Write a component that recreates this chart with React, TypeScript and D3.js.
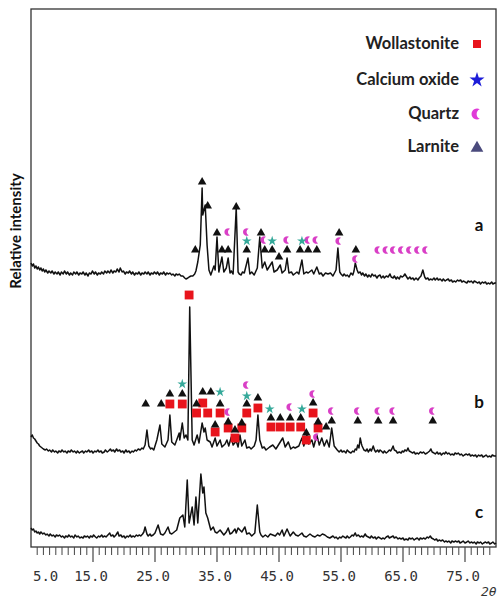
import React from "react";
import * as d3 from "d3";

const W = 499;
const H = 599;
const margin = { top: 9, right: 3, bottom: 52, left: 31 };

// 2-theta range and tick labels
const thetaDomain = [5, 80];
const labelTicks = [5, 15, 25, 35, 45, 55, 65, 75];

// vertical offsets of the three patterns (relative intensity units)
const offsets = { a: 270, b: 95, c: 10 };
const traceLetters = ["a", "b", "c"];
const letterLevels = [52, 50, 25];

// pattern a: [2theta, intensity above its own baseline]
const traceA = [
  [5.0, 14], [5.2, 11], [5.4, 13], [5.6, 9], [5.8, 11], [6.0, 8], [6.2, 10], [6.4, 7], [6.6, 9],
  [6.8, 6], [7.0, 8], [7.2, 5], [7.4, 7], [7.7, 4], [7.9, 6], [8.2, 4], [8.4, 6], [8.7, 3],
  [8.9, 5], [9.2, 3], [9.4, 5], [9.7, 2], [9.9, 5], [10.2, 3], [10.4, 6], [10.7, 3], [10.9, 5],
  [11.2, 2], [11.4, 4], [11.7, 2], [11.9, 5], [12.2, 3], [12.4, 5], [12.7, 2], [12.9, 4], [13.2, 3],
  [13.4, 5], [13.7, 2], [13.9, 4], [14.2, 1], [14.4, 4], [14.7, 3], [14.9, 6], [15.2, 3], [15.4, 5],
  [15.7, 2], [15.9, 4], [16.2, 3], [16.4, 5], [16.7, 3], [16.9, 6], [17.2, 4], [17.4, 6], [17.7, 4],
  [17.9, 7], [18.2, 4], [18.4, 6], [18.7, 5], [18.9, 8], [19.2, 5], [19.4, 9], [19.7, 5], [19.9, 6],
  [20.2, 3], [20.4, 5], [20.7, 4], [20.9, 6], [21.2, 3], [21.4, 5], [21.7, 2], [21.9, 4], [22.2, 3],
  [22.4, 5], [22.7, 2], [22.9, 4], [23.2, 3], [23.4, 5], [23.7, 3], [23.9, 5], [24.2, 2], [24.4, 4],
  [24.7, 3], [24.9, 5], [25.2, 3], [25.4, 5], [25.7, 2], [25.9, 4], [26.2, 3], [26.4, 5], [26.7, 2],
  [26.9, 4], [27.2, 3], [27.4, 4], [27.7, 2], [27.9, 3], [28.2, 1], [28.4, 3], [28.7, 2], [28.9, 3],
  [29.2, 1], [29.5, 1], [29.8, -1], [30.0, -2], [30.3, -1], [30.5, 0], [30.8, 1], [31.1, 1],
  [31.4, 3], [31.6, 6], [31.9, 15], [32.3, 32], [32.6, 89], [32.7, 62], [33.1, 72], [33.4, 32],
  [33.7, 7], [34.0, 2], [34.5, 11], [34.7, 7], [35.0, 40], [35.3, 5], [35.8, 20], [36.1, 5],
  [36.5, 9], [36.8, 19], [37.1, 4], [37.3, 6], [37.6, 3], [38.1, 69], [38.4, 5], [38.6, 3], [38.9, 2],
  [39.1, 5], [39.4, 4], [40.0, 19], [40.3, 3], [40.6, 5], [41.0, 2], [41.5, 9], [41.9, 40], [42.3, 9],
  [42.7, 15], [43.1, 7], [43.5, 11], [43.9, 15], [44.2, 5], [44.7, 7], [45.2, 12], [45.5, 4],
  [46.0, 7], [46.3, 19], [46.6, 4], [47.0, 5], [47.3, 2], [47.9, 5], [48.2, 3], [48.7, 17], [49.0, 3],
  [49.4, 5], [49.7, 4], [50.3, 7], [50.6, 3], [51.1, 10], [51.5, 3], [51.8, 4], [52.1, 1], [52.5, 4],
  [52.9, 3], [53.3, 4], [53.7, 1], [54.2, 7], [54.5, 29], [54.8, 5], [55.0, 3], [55.3, 1], [55.5, 3],
  [55.8, 1], [56.0, 2], [56.3, 0], [56.6, 4], [56.9, 2], [57.1, 6], [57.3, 14], [57.6, 7], [57.8, 4],
  [58.1, 5], [58.3, 2], [58.5, 4], [58.8, 1], [59.0, 3], [59.3, 0], [59.5, 2], [59.8, 0], [60.0, 3],
  [60.3, 1], [60.5, 2], [60.8, -1], [61.0, 1], [61.3, 2], [61.5, -1], [61.8, 1], [62.0, -1],
  [62.3, 1], [62.6, 0], [62.9, 3], [63.1, 0], [63.4, -1], [63.6, 1], [63.9, -2], [64.1, 0],
  [64.4, -2], [64.6, 1], [64.9, 0], [65.1, 1], [65.3, 3], [65.6, 0], [65.8, -2], [66.1, 0],
  [66.3, -2], [66.6, -1], [66.8, -3], [67.1, -1], [67.4, -3], [67.6, -1], [67.9, 1], [68.2, 7],
  [68.5, 0], [68.7, -2], [69.0, -1], [69.2, -3], [69.5, -2], [69.7, -3], [70.0, -1], [70.2, -3],
  [70.5, -1], [70.7, -3], [71.0, -2], [71.3, -4], [71.5, -2], [71.8, -4], [72.0, -3], [72.3, -2],
  [72.5, -4], [72.8, -3], [73.0, -5], [73.3, -4], [73.5, -5], [73.8, -3], [74.0, -4], [74.3, -3],
  [74.5, -5], [74.8, -4], [75.0, -5], [75.3, -6], [75.5, -4], [75.8, -5], [76.0, -4], [76.3, -6],
  [76.5, -4], [76.8, -5], [77.0, -6], [77.3, -5], [77.5, -7], [77.8, -5], [78.0, -6], [78.3, -5],
  [78.5, -7], [78.8, -6], [79.0, -7], [79.3, -5], [79.5, -7], [79.8, -6], [80.0, -6],
];

const traceB = [
  [5.0, 15], [5.2, 17], [5.4, 14], [5.6, 13], [5.8, 11], [6.0, 9], [6.2, 8], [6.4, 6], [6.6, 5],
  [6.8, 4], [7.0, 3], [7.3, 2], [7.5, 3], [7.8, 1], [8.0, 2], [8.3, 0], [8.5, 2], [8.8, 0], [9.0, 1],
  [9.3, -1], [9.5, 1], [9.8, 0], [10.0, 2], [10.3, 0], [10.5, 1], [10.8, -1], [11.0, 1], [11.3, 0],
  [11.5, 2], [11.8, 0], [12.0, 1], [12.3, -1], [12.5, 1], [12.8, -1], [13.0, 0], [13.3, 1],
  [13.5, -1], [13.8, 1], [14.0, 0], [14.3, 2], [14.5, 0], [14.8, 1], [15.0, -1], [15.3, 1],
  [15.5, 0], [15.8, 2], [16.0, 0], [16.3, 1], [16.5, -1], [16.8, 0], [17.0, 2], [17.3, 0],
  [17.5, 1], [17.8, 3], [18.0, 1], [18.3, 2], [18.5, 0], [18.8, 3], [19.0, 1], [19.3, 2], [19.5, 0],
  [19.8, 1], [20.0, -1], [20.3, 2], [20.5, 0], [20.8, 1], [21.0, -1], [21.3, 1], [21.5, 0],
  [21.8, 2], [22.0, 1], [22.3, 3], [22.6, 2], [22.9, 4], [23.1, 3], [23.4, 7], [23.7, 22],
  [24.0, 6], [24.3, 3], [24.5, 4], [24.8, 2], [25.0, 6], [25.3, 12], [25.8, 27], [26.1, 8],
  [26.6, 5], [27.1, 12], [27.4, 37], [27.7, 10], [28.2, 7], [28.5, 12], [28.9, 19], [29.0, 12],
  [29.4, 29], [29.7, 14], [30.0, 17], [30.3, 12], [30.6, 145], [31.0, 12], [31.3, 7], [31.8, 17],
  [32.1, 9], [32.6, 29], [32.9, 20], [33.1, 24], [33.4, 12], [33.9, 10], [34.2, 5], [34.7, 14],
  [35.0, 6], [35.5, 12], [35.8, 5], [36.3, 8], [36.6, 12], [36.9, 6], [37.3, 15], [37.6, 7],
  [38.1, 11], [38.4, 5], [38.7, 17], [39.0, 6], [39.5, 12], [39.8, 4], [40.2, 5], [40.5, 3],
  [41.0, 6], [41.3, 12], [41.6, 37], [41.9, 12], [42.3, 4], [42.6, 5], [42.9, 2], [43.5, 5],
  [44.0, 7], [44.5, 3], [45.2, 10], [45.6, 14], [46.0, 5], [46.5, 10], [46.9, 3], [47.3, 5],
  [47.6, 4], [48.2, 6], [48.7, 14], [49.0, 6], [49.5, 17], [49.8, 8], [50.3, 12], [50.6, 5],
  [51.1, 17], [51.5, 7], [51.9, 14], [52.3, 6], [52.7, 12], [53.1, 5], [53.5, 24], [53.9, 6],
  [54.4, 2], [54.7, 0], [55.0, 2], [55.2, 0], [55.5, 1], [55.8, -1], [56.0, 2], [56.3, 0],
  [56.6, -1], [56.9, 1], [57.1, 0], [57.3, 3], [57.5, 2], [57.7, 7], [57.9, 4], [58.1, 14],
  [58.3, 8], [58.4, 6], [58.7, 2], [59.0, 1], [59.2, 3], [59.4, 0], [59.7, 3], [59.9, 1], [60.2, 6],
  [60.4, 2], [60.6, 0], [60.9, 2], [61.1, 0], [61.3, 2], [61.5, 1], [61.8, -1], [62.0, 1],
  [62.3, -1], [62.5, 0], [62.8, 2], [63.0, 1], [63.2, 3], [63.4, 6], [63.6, 2], [63.9, 1],
  [64.1, -1], [64.4, 0], [64.7, -1], [64.9, 1], [65.1, 0], [65.3, 2], [65.6, 1], [65.8, 4],
  [66.0, 1], [66.3, 0], [66.5, -1], [66.8, 0], [67.0, -2], [67.3, -1], [67.5, -2], [67.8, 0],
  [68.1, -1], [68.3, 0], [68.6, -2], [68.9, -1], [69.1, 0], [69.3, 1], [69.5, 3], [69.7, 0],
  [70.0, -1], [70.2, -2], [70.5, 0], [70.7, -2], [71.0, -1], [71.2, -3], [71.5, -1], [71.7, -2],
  [71.9, 0], [72.2, -2], [72.4, -1], [72.7, -3], [72.9, -2], [73.2, -3], [73.4, -1], [73.7, -2],
  [73.9, -1], [74.2, -3], [74.4, -2], [74.7, -4], [74.9, -3], [75.2, -2], [75.4, -3], [75.7, -2],
  [75.9, -4], [76.2, -3], [76.4, -4], [76.7, -3], [76.9, -5], [77.2, -3], [77.4, -4], [77.7, -3],
  [77.9, -5], [78.2, -4], [78.4, -3], [78.7, -5], [78.9, -4], [79.2, -5], [79.4, -3], [79.7, -4],
  [80.0, -4],
];

const traceC = [
  [5.0, 9], [5.2, 7], [5.4, 8], [5.6, 5], [5.8, 6], [6.0, 4], [6.2, 5], [6.4, 3], [6.6, 5],
  [6.9, 3], [7.1, 4], [7.4, 2], [7.6, 3], [7.9, 1], [8.1, 3], [8.4, 1], [8.6, 2], [8.9, 0], [9.1, 2],
  [9.4, 1], [9.6, 2], [9.9, 0], [10.1, 1], [10.4, -1], [10.6, 1], [10.9, 0], [11.1, 2], [11.4, 0],
  [11.6, 1], [11.9, -1], [12.1, 2], [12.4, 0], [12.6, 1], [12.9, -1], [13.1, 0], [13.4, -1],
  [13.6, 1], [13.9, 0], [14.1, 1], [14.4, -1], [14.6, 1], [14.9, 0], [15.1, 2], [15.4, 0],
  [15.6, -1], [15.9, 1], [16.1, 0], [16.4, 2], [16.6, 0], [16.9, 1], [17.1, 0], [17.4, 2],
  [17.7, 4], [17.9, 1], [18.2, 2], [18.4, 0], [18.7, 2], [19.0, 5], [19.2, 1], [19.5, 2], [19.7, 0],
  [20.0, 1], [20.2, -1], [20.5, 1], [20.7, 0], [21.0, 2], [21.2, 0], [21.5, 1], [21.7, 0], [22.0, 2],
  [22.2, 1], [22.5, 2], [22.7, 1], [23.0, 3], [23.2, 5], [23.4, 10], [23.7, 3], [23.9, 1],
  [24.2, 3], [24.4, 1], [24.7, 2], [25.0, 4], [25.5, 12], [25.9, 3], [26.3, 2], [26.6, 4],
  [27.1, 10], [27.4, 4], [27.7, 3], [28.1, 5], [28.5, 7], [29.0, 19], [29.5, 22], [29.8, 10],
  [30.2, 57], [30.5, 14], [31.0, 30], [31.3, 12], [31.6, 40], [31.9, 14], [32.4, 63], [32.7, 44],
  [32.9, 50], [33.2, 24], [33.5, 19], [34.0, 7], [34.4, 10], [34.7, 5], [35.0, 4], [35.5, 7],
  [36.1, 2], [36.5, 5], [36.8, 9], [37.1, 3], [37.4, 4], [37.9, 8], [38.1, 4], [38.4, 9], [39.0, 5],
  [39.5, 10], [39.8, 3], [40.2, 4], [40.6, 1], [41.1, 4], [41.5, 32], [41.9, 5], [42.1, 2],
  [42.4, 0], [42.8, 2], [43.2, 0], [43.6, 3], [44.0, 2], [44.4, 1], [44.8, 4], [45.1, 2], [45.5, 7],
  [45.8, 1], [46.3, 8], [46.8, 1], [47.3, 5], [47.7, 2], [48.1, 1], [48.7, 4], [49.0, 1], [49.4, 0],
  [50.0, 3], [50.4, 1], [50.8, 0], [51.2, 2], [51.6, 1], [52.0, 3], [52.4, 2], [52.8, 0], [53.2, -1],
  [53.7, 1], [54.0, -1], [54.2, 0], [54.5, -2], [54.8, 0], [55.0, -1], [55.3, 1], [55.5, 0],
  [55.8, -1], [56.0, 1], [56.3, -1], [56.5, 0], [56.8, 2], [57.0, 1], [57.3, 4], [57.5, 1],
  [57.8, 2], [58.1, 0], [58.3, 1], [58.6, 0], [58.9, 3], [59.1, 1], [59.4, 0], [59.7, -1], [59.9, 1],
  [60.2, -1], [60.5, 0], [60.7, -2], [61.0, 0], [61.3, -1], [61.5, -2], [61.8, -1], [62.0, -2],
  [62.3, 0], [62.6, 1], [62.8, -1], [63.1, 0], [63.4, 1], [63.6, -1], [63.9, 0], [64.2, -2],
  [64.4, -1], [64.7, -2], [65.0, -1], [65.2, -3], [65.5, -2], [65.8, -3], [66.0, -1], [66.3, -2],
  [66.5, -1], [66.8, -3], [67.0, -2], [67.3, -1], [67.6, -3], [67.8, -1], [68.1, -2], [68.3, -1],
  [68.6, -2], [68.9, 0], [69.1, -1], [69.4, 1], [69.6, -1], [69.9, -2], [70.1, -3], [70.4, -2],
  [70.6, -4], [70.9, -3], [71.1, -4], [71.4, -3], [71.7, -5], [71.9, -4], [72.2, -5], [72.4, -4],
  [72.7, -6], [72.9, -4], [73.2, -5], [73.5, -4], [73.7, -5], [74.0, -4], [74.2, -6], [74.5, -5],
  [74.7, -4], [75.0, -6], [75.3, -5], [75.5, -4], [75.8, -6], [76.0, -5], [76.3, -6], [76.5, -5],
  [76.8, -7], [77.0, -5], [77.3, -6], [77.5, -5], [77.8, -7], [78.0, -6], [78.3, -5], [78.5, -6],
  [78.8, -5], [79.0, -7], [79.3, -6], [79.5, -5], [79.8, -7], [80.0, -6],
];

// phase markers: [2theta, level above the pattern baseline]
const larniteA = [
  [32.6, 95], [33.5, 71], [31.5, 27], [35.0, 44], [35.8, 27], [36.8, 27], [38.1, 70], [39.8, 27],
  [42.1, 44], [42.7, 27], [43.9, 27], [45.0, 20], [46.3, 27], [48.4, 27], [49.7, 27], [51.1, 27],
  [54.7, 44], [57.4, 27],
];
const quartzA = [
  [36.8, 45], [39.8, 45], [42.6, 37], [46.3, 37], [49.7, 37], [51.0, 37], [54.7, 36], [57.4, 18],
  [61.0, 27], [62.3, 27], [63.5, 27], [64.8, 27], [66.1, 27], [67.4, 27], [68.7, 27],
];
const calciumA = [[39.8, 36], [43.9, 36], [48.7, 36]];

const wollastoniteB = [
  [30.5, 157], [27.4, 48], [29.4, 48], [31.7, 39], [32.7, 49], [33.5, 39], [35.5, 39], [34.7, 20],
  [36.8, 24], [37.9, 14], [39.0, 24], [39.8, 39], [41.6, 44], [43.7, 25], [45.2, 25], [46.8, 25],
  [48.5, 25], [49.4, 12], [50.5, 39], [51.3, 24],
];
const larniteB = [
  [23.5, 48], [26.0, 48], [27.4, 58], [29.4, 58], [31.7, 48], [32.7, 60], [34.0, 60], [35.5, 48],
  [34.7, 27], [36.8, 30], [37.9, 22], [39.0, 29], [39.8, 48], [41.6, 54], [43.7, 34], [45.2, 34],
  [46.8, 34], [48.5, 34], [49.4, 19], [50.5, 49], [51.3, 30], [52.6, 25], [53.5, 31], [57.7, 31],
  [61.0, 31], [63.4, 31], [69.8, 31],
];
const calciumB = [[29.4, 68], [35.5, 60], [39.8, 56], [43.5, 43], [48.7, 43]];
const quartzB = [
  [36.8, 40], [39.8, 67], [46.8, 45], [50.5, 58], [51.1, 15], [53.5, 41], [57.7, 41], [61.0, 41],
  [63.4, 41], [69.8, 41],
];

const legendNames = ["Wollastonite", "Calcium oxide", "Quartz", "Larnite"];

const crescent = (r: number) =>
  `M${0.5 * r},${-0.87 * r}A${r},${r} 0 1 0 ${0.5 * r},${0.87 * r}A${0.95 * r},${0.95 * r} 0 0 1 ${0.5 * r},${-0.87 * r}Z`;

const App = () => {
  const x = d3.scaleLinear().domain(thetaDomain).range([margin.left, W - margin.right]);
  const y = d3.scaleLinear().domain([0, 538]).range([H - margin.bottom, margin.top]);
  const y0 = H - margin.bottom;

  const line = (off: number) =>
    d3
      .line<number[]>()
      .x((d) => x(d[0]))
      .y((d) => y(off + d[1]));

  const tri = d3.symbol(d3.symbolTriangle, 32)();
  const star = d3.symbol(d3.symbolStar, 30)();
  const sq = d3.symbol(d3.symbolSquare, 78)();

  const place = (d: number[], off: number) => `translate(${x(d[0])},${y(off + d[1])})`;

  const minor = d3.range(6, 80, 1).filter((t) => (t - 5) % 10 !== 0);
  const major = d3.range(15, 80, 10);

  const legendColors = ["#e8141c", "#1c1cd8", "#e03ad8", "#4b4b7d"];
  const legendY = [44, 80, 114, 147];

  return (
    <svg width={W} height={H} style={{ position: "absolute", left: 0, top: 0, background: "#fff" }}>
      {/* frame */}
      <rect
        x={margin.left}
        y={margin.top}
        width={W - margin.right - margin.left}
        height={y0 - margin.top}
        fill="none"
        stroke="#333"
        strokeWidth={1.3}
      />

      {/* ticks */}
      {minor.map((t) => (
        <line key={"m" + t} x1={x(t)} x2={x(t)} y1={y0} y2={y0 + 8} stroke="#444" strokeWidth={1} />
      ))}
      {major.map((t) => (
        <line key={"M" + t} x1={x(t)} x2={x(t)} y1={y0} y2={y0 + 15} stroke="#444" strokeWidth={1.2} />
      ))}
      {labelTicks.map((t, i) => (
        <text
          key={"l" + t}
          x={i === 0 ? x(t) + 2 : x(t) - 2}
          y={y0 + 34}
          textAnchor={i === 0 ? "start" : "middle"}
          fontFamily="DejaVu Sans Mono"
          fontSize={14}
          fill="#333"
        >
          {t.toFixed(1)}
        </text>
      ))}
      <text x={481} y={H - 3} fontFamily="DejaVu Sans Mono" fontSize={13} fontStyle="italic" fill="#333">
        2θ
      </text>

      {/* axis title */}
      <text
        transform={`translate(21,231) rotate(-90)`}
        textAnchor="middle"
        fontFamily="Lato"
        fontWeight="bold"
        fontSize={15}
        fill="#111"
      >
        Relative intensity
      </text>

      {/* patterns */}
      <path d={line(offsets.a)(traceA) || ""} fill="none" stroke="#111" strokeWidth={1.5} strokeLinejoin="round" />
      <path d={line(offsets.b)(traceB) || ""} fill="none" stroke="#111" strokeWidth={1.5} strokeLinejoin="round" />
      <path d={line(offsets.c)(traceC) || ""} fill="none" stroke="#111" strokeWidth={1.5} strokeLinejoin="round" />

      {/* markers a */}
      {larniteA.map((d, i) => (
        <path key={"la" + i} d={tri} transform={place(d, offsets.a)} fill="#111" />
      ))}
      {quartzA.map((d, i) => (
        <path key={"qa" + i} d={crescent(3.8)} transform={place(d, offsets.a)} fill="#d93fc6" />
      ))}
      {calciumA.map((d, i) => (
        <path key={"ca" + i} d={star} transform={place(d, offsets.a)} fill="#35a99a" />
      ))}

      {/* markers b */}
      {wollastoniteB.map((d, i) => (
        <path key={"wb" + i} d={sq} transform={place(d, offsets.b)} fill="#e8141c" />
      ))}
      {larniteB.map((d, i) => (
        <path key={"lb" + i} d={tri} transform={place(d, offsets.b)} fill="#111" />
      ))}
      {calciumB.map((d, i) => (
        <path key={"cb" + i} d={star} transform={place(d, offsets.b)} fill="#35a99a" />
      ))}
      {quartzB.map((d, i) => (
        <path key={"qb" + i} d={crescent(3.8)} transform={place(d, offsets.b)} fill="#d93fc6" />
      ))}

      {/* pattern letters */}
      {traceLetters.map((l, i) => (
        <text
          key={l}
          x={479}
          y={y(offsets[l as "a" | "b" | "c"] + letterLevels[i]) + 6}
          textAnchor="middle"
          fontFamily="Lato"
          fontWeight="bold"
          fontSize={17}
          fill="#111"
        >
          {l}
        </text>
      ))}

      {/* legend */}
      {legendNames.map((n, i) => (
        <g key={n} transform={`translate(0,${legendY[i]})`}>
          <text x={459} y={5} textAnchor="end" fontFamily="Lato" fontWeight="bold" fontSize={16.5} fill="#222">
            {n}
          </text>
          <g transform="translate(477,0)">
            {i === 0 && <path d={d3.symbol(d3.symbolSquare, 64)() || ""} fill={legendColors[0]} />}
            {i === 1 && <path d={d3.symbol(d3.symbolStar, 70)() || ""} fill={legendColors[1]} />}
            {i === 2 && <path d={crescent(5.5)} fill={legendColors[2]} />}
            {i === 3 && <path d={d3.symbol(d3.symbolTriangle, 70)() || ""} transform="translate(0,1)" fill={legendColors[3]} />}
          </g>
        </g>
      ))}
    </svg>
  );
};

export default App;
